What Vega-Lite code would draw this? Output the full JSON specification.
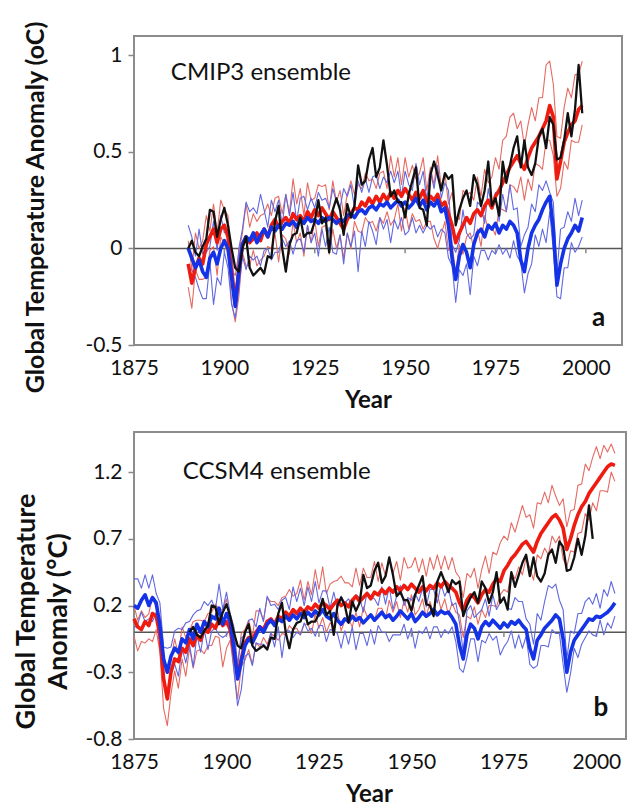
{
"$schema":"https://vega.github.io/schema/vega-lite/v6.json",
"padding":{"left":11,"top":19,"right":0,"bottom":0},
"config":{"font":"Lato","view":{"stroke":"#8c8c8c","strokeWidth":2},"axis":{"grid":false,"domain":false,"labelFont":"Lato","labelFontSize":21,"labelColor":"#111","titleFont":"Lato","titleFontWeight":"bold","titleColor":"#111","labelFlush":false,"labelOverlap":false},"concat":{"spacing":18}},
"datasets":{
"a":[
{"y":1890,"r":-0.08,"ru":0.04,"rl":-0.2,"b":0,"bu":0.12,"bl":-0.11,"o":0},
{"y":1891,"r":-0.18,"ru":-0.11,"rl":-0.31,"b":-0.05,"bu":0.06,"bl":-0.11,"o":0.04},
{"y":1892,"r":-0.1,"ru":0.08,"rl":-0.11,"b":-0.1,"bu":-0.04,"bl":-0.15,"o":-0.02},
{"y":1893,"r":-0.05,"ru":0,"rl":-0.16,"b":-0.06,"bu":0.1,"bl":-0.21,"o":-0.04},
{"y":1894,"r":-0.08,"ru":0.04,"rl":-0.16,"b":-0.12,"bu":-0.03,"bl":-0.26,"o":0.01},
{"y":1895,"r":0.02,"ru":0.17,"rl":-0.15,"b":-0.15,"bu":-0.02,"bl":-0.26,"o":0.05},
{"y":1896,"r":0.06,"ru":0.09,"rl":-0.01,"b":-0.05,"bu":0.01,"bl":-0.07,"o":0.2},
{"y":1897,"r":0.1,"ru":0.23,"rl":0.01,"b":-0.02,"bu":0.14,"bl":-0.29,"o":0.19},
{"y":1898,"r":0.03,"ru":0.08,"rl":-0.14,"b":-0.08,"bu":-0.01,"bl":-0.15,"o":0.06},
{"y":1899,"r":0.1,"ru":0.25,"rl":0.06,"b":0,"bu":0.17,"bl":-0.19,"o":0.15},
{"y":1900,"r":0.12,"ru":0.2,"rl":0.02,"b":0.04,"bu":0.08,"bl":-0.02,"o":0.21},
{"y":1901,"r":0.06,"ru":0.17,"rl":-0.02,"b":0,"bu":0.1,"bl":-0.1,"o":0.12},
{"y":1902,"r":-0.12,"ru":-0.11,"rl":-0.28,"b":-0.15,"bu":0,"bl":-0.29,"o":0},
{"y":1903,"r":-0.28,"ru":-0.14,"rl":-0.38,"b":-0.3,"bu":-0.26,"bl":-0.36,"o":-0.1},
{"y":1904,"r":-0.12,"ru":-0.02,"rl":-0.25,"b":-0.12,"bu":0,"bl":-0.21,"o":-0.12},
{"y":1905,"r":0.02,"ru":0.08,"rl":-0.02,"b":0.02,"bu":0.1,"bl":-0.04,"o":0},
{"y":1906,"r":0.06,"ru":0.23,"rl":-0.09,"b":0.06,"bu":0.24,"bl":-0.11,"o":0.06},
{"y":1907,"r":0.03,"ru":0.11,"rl":-0.09,"b":0.04,"bu":0.19,"bl":-0.04,"o":-0.1},
{"y":1908,"r":0.05,"ru":0.18,"rl":-0.01,"b":0.08,"bu":0.21,"bl":-0.06,"o":-0.14},
{"y":1909,"r":0.08,"ru":0.14,"rl":-0.09,"b":0.03,"bu":0.18,"bl":-0.04,"o":-0.12},
{"y":1910,"r":0.04,"ru":0.17,"rl":-0.06,"b":0.07,"bu":0.28,"bl":-0.09,"o":-0.1},
{"y":1911,"r":0.1,"ru":0.18,"rl":-0.04,"b":0.1,"bu":0.2,"bl":-0.01,"o":-0.13},
{"y":1912,"r":0.06,"ru":0.23,"rl":0.01,"b":0.06,"bu":0.11,"bl":0,"o":-0.04},
{"y":1913,"r":0.12,"ru":0.17,"rl":0,"b":0.11,"bu":0.25,"bl":-0.06,"o":-0.05},
{"y":1914,"r":0.15,"ru":0.26,"rl":0.08,"b":0.09,"bu":0.19,"bl":-0.02,"o":0.14},
{"y":1915,"r":0.11,"ru":0.27,"rl":-0.07,"b":0.12,"bu":0.25,"bl":-0.02,"o":0.22},
{"y":1916,"r":0.14,"ru":0.18,"rl":0.07,"b":0.1,"bu":0.12,"bl":0.05,"o":0},
{"y":1917,"r":0.16,"ru":0.28,"rl":0.05,"b":0.13,"bu":0.28,"bl":0.01,"o":-0.12},
{"y":1918,"r":0.13,"ru":0.18,"rl":-0.03,"b":0.12,"bu":0.17,"bl":0.04,"o":0.02},
{"y":1919,"r":0.18,"ru":0.36,"rl":0.14,"b":0.14,"bu":0.29,"bl":-0.03,"o":0.07},
{"y":1920,"r":0.15,"ru":0.23,"rl":0.03,"b":0.11,"bu":0.14,"bl":0.04,"o":0.08},
{"y":1921,"r":0.17,"ru":0.31,"rl":0.08,"b":0.15,"bu":0.26,"bl":0.05,"o":0.16},
{"y":1922,"r":0.14,"ru":0.17,"rl":-0.04,"b":0.13,"bu":0.27,"bl":-0.02,"o":0.06},
{"y":1923,"r":0.19,"ru":0.34,"rl":0.12,"b":0.16,"bu":0.2,"bl":0.12,"o":0.08},
{"y":1924,"r":0.16,"ru":0.25,"rl":0.03,"b":0.14,"bu":0.26,"bl":0.03,"o":0.08},
{"y":1925,"r":0.2,"ru":0.26,"rl":0.15,"b":0.15,"bu":0.21,"bl":0.08,"o":0.14},
{"y":1926,"r":0.17,"ru":0.33,"rl":0.01,"b":0.13,"bu":0.29,"bl":-0.04,"o":0.25},
{"y":1927,"r":0.21,"ru":0.32,"rl":0.11,"b":0.16,"bu":0.25,"bl":0.1,"o":0.13},
{"y":1928,"r":0.18,"ru":0.33,"rl":0.12,"b":0.14,"bu":0.26,"bl":0.01,"o":0.16},
{"y":1929,"r":0.15,"ru":0.2,"rl":-0.03,"b":0.16,"bu":0.21,"bl":0.11,"o":-0.02},
{"y":1930,"r":0.19,"ru":0.35,"rl":0.1,"b":0.15,"bu":0.31,"bl":-0.02,"o":0.2},
{"y":1931,"r":0.16,"ru":0.24,"rl":0,"b":0.13,"bu":0.24,"bl":-0.03,"o":0.26},
{"y":1932,"r":0.13,"ru":0.3,"rl":0.07,"b":0.15,"bu":0.21,"bl":0.07,"o":0.2},
{"y":1933,"r":0.1,"ru":0.17,"rl":-0.05,"b":0.14,"bu":0.31,"bl":-0.08,"o":0.07},
{"y":1934,"r":0.15,"ru":0.28,"rl":0.08,"b":0.17,"bu":0.27,"bl":0.08,"o":0.23},
{"y":1935,"r":0.18,"ru":0.35,"rl":0,"b":0.18,"bu":0.33,"bl":0.01,"o":0.16},
{"y":1936,"r":0.21,"ru":0.28,"rl":0.14,"b":0.16,"bu":0.21,"bl":0.09,"o":0.22},
{"y":1937,"r":0.2,"ru":0.33,"rl":0.09,"b":0.19,"bu":0.35,"bl":-0.12,"o":0.43},
{"y":1938,"r":0.24,"ru":0.31,"rl":0.08,"b":0.2,"bu":0.29,"bl":0.09,"o":0.33},
{"y":1939,"r":0.22,"ru":0.39,"rl":0.16,"b":0.18,"bu":0.36,"bl":0.01,"o":0.35},
{"y":1940,"r":0.26,"ru":0.35,"rl":0.13,"b":0.21,"bu":0.29,"bl":0.14,"o":0.46},
{"y":1941,"r":0.23,"ru":0.36,"rl":0.14,"b":0.22,"bu":0.37,"bl":0.09,"o":0.52},
{"y":1942,"r":0.27,"ru":0.31,"rl":0.09,"b":0.2,"bu":0.38,"bl":0.02,"o":0.37},
{"y":1943,"r":0.24,"ru":0.39,"rl":0.16,"b":0.23,"bu":0.31,"bl":0.16,"o":0.42},
{"y":1944,"r":0.28,"ru":0.4,"rl":0.13,"b":0.22,"bu":0.37,"bl":0.1,"o":0.56},
{"y":1945,"r":0.25,"ru":0.31,"rl":0.19,"b":0.24,"bu":0.34,"bl":0.15,"o":0.43},
{"y":1946,"r":0.29,"ru":0.48,"rl":0.12,"b":0.21,"bu":0.4,"bl":0.03,"o":0.27},
{"y":1947,"r":0.26,"ru":0.37,"rl":0.15,"b":0.23,"bu":0.34,"bl":0.15,"o":0.3},
{"y":1948,"r":0.3,"ru":0.47,"rl":0.23,"b":0.25,"bu":0.4,"bl":0.1,"o":0.24},
{"y":1949,"r":0.27,"ru":0.33,"rl":0.09,"b":0.22,"bu":0.27,"bl":0.16,"o":0.24},
{"y":1950,"r":0.31,"ru":0.47,"rl":0.21,"b":0.24,"bu":0.4,"bl":0.07,"o":0.16},
{"y":1951,"r":0.28,"ru":0.37,"rl":0.1,"b":0.21,"bu":0.33,"bl":0.09,"o":0.28},
{"y":1952,"r":0.25,"ru":0.43,"rl":0.18,"b":0.23,"bu":0.3,"bl":0.16,"o":0.35},
{"y":1953,"r":0.29,"ru":0.36,"rl":0.14,"b":0.26,"bu":0.44,"bl":0.08,"o":0.42},
{"y":1954,"r":0.26,"ru":0.39,"rl":0.15,"b":0.22,"bu":0.33,"bl":0.12,"o":0.21},
{"y":1955,"r":0.3,"ru":0.47,"rl":0.1,"b":0.25,"bu":0.4,"bl":0.08,"o":0.2},
{"y":1956,"r":0.24,"ru":0.3,"rl":0.14,"b":0.2,"bu":0.25,"bl":0.12,"o":0.12},
{"y":1957,"r":0.27,"ru":0.42,"rl":0.14,"b":0.24,"bu":0.4,"bl":0.1,"o":0.38},
{"y":1958,"r":0.25,"ru":0.33,"rl":0.05,"b":0.22,"bu":0.31,"bl":0.12,"o":0.45},
{"y":1959,"r":0.28,"ru":0.48,"rl":0,"b":0.25,"bu":0.43,"bl":0.06,"o":0.38},
{"y":1960,"r":0.22,"ru":0.32,"rl":0.07,"b":0.19,"bu":0.26,"bl":0.1,"o":0.3},
{"y":1961,"r":0.24,"ru":0.39,"rl":0.14,"b":0.21,"bu":0.34,"bl":0.08,"o":0.39},
{"y":1962,"r":0.18,"ru":0.23,"rl":-0.01,"b":0.12,"bu":0.3,"bl":-0.05,"o":0.36},
{"y":1963,"r":0.12,"ru":0.29,"rl":0.02,"b":-0.05,"bu":0.02,"bl":-0.09,"o":0.38},
{"y":1964,"r":0.03,"ru":0.16,"rl":-0.13,"b":-0.16,"bu":-0.02,"bl":-0.28,"o":0.12},
{"y":1965,"r":0.08,"ru":0.15,"rl":0.02,"b":-0.04,"bu":0.04,"bl":-0.11,"o":0.2},
{"y":1966,"r":0.12,"ru":0.3,"rl":-0.03,"b":0.02,"bu":0.2,"bl":-0.14,"o":0.26},
{"y":1967,"r":0.16,"ru":0.28,"rl":0.06,"b":-0.02,"bu":0.08,"bl":-0.08,"o":0.3},
{"y":1968,"r":0.13,"ru":0.29,"rl":0.08,"b":-0.1,"bu":0.05,"bl":-0.24,"o":0.22},
{"y":1969,"r":0.18,"ru":0.25,"rl":0,"b":0.02,"bu":0.07,"bl":-0.04,"o":0.38},
{"y":1970,"r":0.2,"ru":0.37,"rl":0.1,"b":0.08,"bu":0.24,"bl":-0.09,"o":0.33},
{"y":1971,"r":0.17,"ru":0.27,"rl":0.01,"b":0.1,"bu":0.22,"bl":-0.01,"o":0.22},
{"y":1972,"r":0.22,"ru":0.41,"rl":0.17,"b":0.06,"bu":0.13,"bl":-0.01,"o":0.3},
{"y":1973,"r":0.25,"ru":0.34,"rl":0.1,"b":0.12,"bu":0.31,"bl":-0.06,"o":0.45},
{"y":1974,"r":0.21,"ru":0.37,"rl":0.11,"b":0.1,"bu":0.21,"bl":-0.01,"o":0.22},
{"y":1975,"r":0.27,"ru":0.47,"rl":0.07,"b":0.13,"bu":0.29,"bl":-0.03,"o":0.26},
{"y":1976,"r":0.3,"ru":0.41,"rl":0.21,"b":0.08,"bu":0.14,"bl":0.02,"o":0.17},
{"y":1977,"r":0.34,"ru":0.56,"rl":0.2,"b":0.12,"bu":0.28,"bl":-0.03,"o":0.45},
{"y":1978,"r":0.38,"ru":0.58,"rl":0.19,"b":0.1,"bu":0.19,"bl":0,"o":0.34},
{"y":1979,"r":0.42,"ru":0.68,"rl":0.33,"b":0.14,"bu":0.33,"bl":-0.05,"o":0.43},
{"y":1980,"r":0.45,"ru":0.7,"rl":0.32,"b":0.12,"bu":0.2,"bl":0.04,"o":0.52},
{"y":1981,"r":0.48,"ru":0.62,"rl":0.29,"b":0.08,"bu":0.21,"bl":-0.04,"o":0.58},
{"y":1982,"r":0.44,"ru":0.66,"rl":0.37,"b":-0.06,"bu":0.01,"bl":-0.07,"o":0.42},
{"y":1983,"r":0.41,"ru":0.53,"rl":0.25,"b":-0.12,"bu":0.07,"bl":-0.23,"o":0.56},
{"y":1984,"r":0.47,"ru":0.64,"rl":0.36,"b":0,"bu":0.11,"bl":-0.13,"o":0.42},
{"y":1985,"r":0.52,"ru":0.73,"rl":0.3,"b":0.08,"bu":0.23,"bl":-0.08,"o":0.38},
{"y":1986,"r":0.55,"ru":0.66,"rl":0.44,"b":0.12,"bu":0.19,"bl":0.07,"o":0.44},
{"y":1987,"r":0.58,"ru":0.78,"rl":0.43,"b":0.15,"bu":0.33,"bl":0.01,"o":0.58},
{"y":1988,"r":0.62,"ru":0.78,"rl":0.41,"b":0.2,"bu":0.3,"bl":0.1,"o":0.62},
{"y":1989,"r":0.66,"ru":0.95,"rl":0.56,"b":0.24,"bu":0.35,"bl":0.03,"o":0.52},
{"y":1990,"r":0.74,"ru":0.97,"rl":0.56,"b":0.27,"bu":0.29,"bl":0.19,"o":0.68},
{"y":1991,"r":0.68,"ru":0.85,"rl":0.48,"b":0.1,"bu":0.24,"bl":-0.01,"o":0.64},
{"y":1992,"r":0.36,"ru":0.58,"rl":0.27,"b":-0.19,"bu":-0.13,"bl":-0.25,"o":0.46},
{"y":1993,"r":0.45,"ru":0.57,"rl":0.31,"b":-0.08,"bu":0.1,"bl":-0.26,"o":0.47},
{"y":1994,"r":0.55,"ru":0.73,"rl":0.45,"b":0,"bu":0.11,"bl":-0.1,"o":0.56},
{"y":1995,"r":0.6,"ru":0.83,"rl":0.41,"b":0.05,"bu":0.19,"bl":-0.1,"o":0.7},
{"y":1996,"r":0.64,"ru":0.78,"rl":0.56,"b":0.08,"bu":0.14,"bl":0.03,"o":0.58},
{"y":1997,"r":0.66,"ru":0.9,"rl":0.55,"b":0.12,"bu":0.26,"bl":-0.02,"o":0.72},
{"y":1998,"r":0.72,"ru":0.9,"rl":0.55,"b":0.09,"bu":0.17,"bl":0.01,"o":0.95},
{"y":1999,"r":0.74,"ru":0.97,"rl":0.64,"b":0.16,"bu":0.25,"bl":0.06,"o":0.7}
],
"b":[
{"y":1875,"r":0.1,"ru":0.2,"rl":-0.03,"b":0.2,"bu":0.4,"bl":0.03},
{"y":1876,"r":0.04,"ru":0.09,"rl":-0.14,"b":0.18,"bu":0.4,"bl":0.06},
{"y":1877,"r":0.02,"ru":0.16,"rl":-0.07,"b":0.24,"bu":0.33,"bl":0.15},
{"y":1878,"r":0.08,"ru":0.11,"rl":-0.08,"b":0.28,"bu":0.43,"bl":0.08},
{"y":1879,"r":0.05,"ru":0.14,"rl":-0.05,"b":0.2,"bu":0.33,"bl":0.1},
{"y":1880,"r":0.14,"ru":0.27,"rl":-0.07,"b":0.26,"bu":0.43,"bl":0.08},
{"y":1881,"r":0.12,"ru":0.18,"rl":0.02,"b":0.22,"bu":0.29,"bl":0.15},
{"y":1882,"r":-0.02,"ru":0.12,"rl":-0.15,"b":0.05,"bu":0.22,"bl":-0.1},
{"y":1883,"r":-0.35,"ru":-0.26,"rl":-0.57,"b":-0.2,"bu":-0.11,"bl":-0.31},
{"y":1884,"r":-0.5,"ru":-0.25,"rl":-0.7,"b":-0.3,"bu":-0.12,"bl":-0.49},
{"y":1885,"r":-0.3,"ru":-0.2,"rl":-0.46,"b":-0.18,"bu":-0.11,"bl":-0.26},
{"y":1886,"r":-0.2,"ru":-0.05,"rl":-0.29,"b":-0.12,"bu":0.01,"bl":-0.24},
{"y":1887,"r":-0.22,"ru":-0.17,"rl":-0.42,"b":-0.15,"bu":0.03,"bl":-0.33},
{"y":1888,"r":-0.12,"ru":0.04,"rl":-0.2,"b":-0.05,"bu":0.02,"bl":-0.12},
{"y":1889,"r":-0.15,"ru":-0.04,"rl":-0.33,"b":-0.08,"bu":0.07,"bl":-0.23},
{"y":1890,"r":-0.05,"ru":0.01,"rl":-0.12,"b":0.02,"bu":0.08,"bl":-0.09,"o":0},
{"y":1891,"r":-0.1,"ru":0.08,"rl":-0.27,"b":-0.05,"bu":0.13,"bl":-0.26,"o":0.04},
{"y":1892,"r":-0.02,"ru":0.09,"rl":-0.14,"b":0.06,"bu":0.16,"bl":-0.02,"o":-0.02},
{"y":1893,"r":-0.06,"ru":0.09,"rl":-0.13,"b":0,"bu":0.17,"bl":-0.15,"o":-0.04},
{"y":1894,"r":0.02,"ru":0.08,"rl":-0.16,"b":0.08,"bu":0.23,"bl":0.02,"o":0.01},
{"y":1895,"r":0,"ru":0.14,"rl":-0.1,"b":0.04,"bu":0.2,"bl":-0.13,"o":0.05},
{"y":1896,"r":0.06,"ru":0.15,"rl":-0.1,"b":0.12,"bu":0.24,"bl":0.01,"o":0.2},
{"y":1897,"r":0.03,"ru":0.21,"rl":-0.03,"b":0.1,"bu":0.17,"bl":0.03,"o":0.19},
{"y":1898,"r":0.1,"ru":0.17,"rl":-0.04,"b":0.18,"bu":0.36,"bl":-0.02,"o":0.06},
{"y":1899,"r":0.05,"ru":0.17,"rl":-0.26,"b":0.06,"bu":0.17,"bl":-0.04,"o":0.15},
{"y":1900,"r":0.08,"ru":0.25,"rl":-0.12,"b":0.14,"bu":0.3,"bl":-0.02,"o":0.21},
{"y":1901,"r":0.02,"ru":0.08,"rl":-0.06,"b":0.08,"bu":0.14,"bl":0.03,"o":0.12},
{"y":1902,"r":-0.15,"ru":-0.02,"rl":-0.28,"b":-0.12,"bu":0.04,"bl":-0.28,"o":0},
{"y":1903,"r":-0.32,"ru":-0.24,"rl":-0.5,"b":-0.35,"bu":-0.25,"bl":-0.55,"o":-0.1},
{"y":1904,"r":-0.2,"ru":-0.01,"rl":-0.26,"b":-0.22,"bu":-0.04,"bl":-0.43,"o":-0.12},
{"y":1905,"r":-0.08,"ru":0.02,"rl":-0.21,"b":-0.1,"bu":-0.03,"bl":-0.18,"o":0},
{"y":1906,"r":-0.04,"ru":0.09,"rl":-0.13,"b":-0.05,"bu":0.09,"bl":-0.16,"o":0.06},
{"y":1907,"r":-0.06,"ru":-0.03,"rl":-0.24,"b":-0.08,"bu":0.1,"bl":-0.25,"o":-0.1},
{"y":1908,"r":0,"ru":0.16,"rl":-0.08,"b":-0.02,"bu":0.04,"bl":-0.08,"o":-0.14},
{"y":1909,"r":0.04,"ru":0.16,"rl":-0.11,"b":0.04,"bu":0.18,"bl":-0.09,"o":-0.12},
{"y":1910,"r":0.02,"ru":0.09,"rl":-0.04,"b":0,"bu":0.08,"bl":-0.09,"o":-0.1},
{"y":1911,"r":0.08,"ru":0.26,"rl":-0.09,"b":0.06,"bu":0.27,"bl":-0.12,"o":-0.13},
{"y":1912,"r":0.1,"ru":0.23,"rl":-0.01,"b":0.09,"bu":0.2,"bl":0,"o":-0.04},
{"y":1913,"r":0.06,"ru":0.23,"rl":-0.03,"b":0.05,"bu":0.21,"bl":-0.11,"o":-0.05},
{"y":1914,"r":0.12,"ru":0.2,"rl":-0.06,"b":0.1,"bu":0.17,"bl":0.04,"o":0.14},
{"y":1915,"r":0.1,"ru":0.26,"rl":-0.01,"b":0.08,"bu":0.24,"bl":-0.19,"o":0.22},
{"y":1916,"r":0.15,"ru":0.27,"rl":-0.02,"b":0.12,"bu":0.26,"bl":0.01,"o":0},
{"y":1917,"r":0.12,"ru":0.32,"rl":0.05,"b":0.09,"bu":0.17,"bl":0.01,"o":-0.12},
{"y":1918,"r":0.17,"ru":0.27,"rl":0.02,"b":0.13,"bu":0.34,"bl":-0.04,"o":0.02},
{"y":1919,"r":0.14,"ru":0.29,"rl":0.03,"b":0.1,"bu":0.23,"bl":0,"o":0.07},
{"y":1920,"r":0.18,"ru":0.39,"rl":-0.02,"b":0.14,"bu":0.33,"bl":-0.02,"o":0.08},
{"y":1921,"r":0.15,"ru":0.24,"rl":0.06,"b":0.11,"bu":0.2,"bl":0.07,"o":0.16},
{"y":1922,"r":0.19,"ru":0.38,"rl":0.06,"b":0.15,"bu":0.34,"bl":0.01,"o":0.06},
{"y":1923,"r":0.17,"ru":0.28,"rl":-0.01,"b":0.12,"bu":0.23,"bl":0.03,"o":0.08},
{"y":1924,"r":0.21,"ru":0.47,"rl":0.14,"b":0.16,"bu":0.38,"bl":-0.03,"o":0.08},
{"y":1925,"r":0.18,"ru":0.32,"rl":0.03,"b":0.13,"bu":0.22,"bl":0.05,"o":0.14},
{"y":1926,"r":0.22,"ru":0.49,"rl":0.11,"b":0.17,"bu":0.31,"bl":0.05,"o":0.25},
{"y":1927,"r":0.2,"ru":0.29,"rl":0,"b":0.12,"bu":0.31,"bl":-0.07,"o":0.13},
{"y":1928,"r":0.17,"ru":0.36,"rl":0.07,"b":0.1,"bu":0.18,"bl":0.02,"o":0.16},
{"y":1929,"r":0.21,"ru":0.38,"rl":0.04,"b":0.14,"bu":0.3,"bl":0.01,"o":-0.02},
{"y":1930,"r":0.24,"ru":0.39,"rl":0.16,"b":0.09,"bu":0.18,"bl":-0.01,"o":0.2},
{"y":1931,"r":0.2,"ru":0.42,"rl":0.01,"b":0.06,"bu":0.27,"bl":-0.12,"o":0.26},
{"y":1932,"r":0.22,"ru":0.37,"rl":0.09,"b":0.1,"bu":0.22,"bl":0.01,"o":0.2},
{"y":1933,"r":0.19,"ru":0.37,"rl":0.1,"b":0.08,"bu":0.25,"bl":-0.09,"o":0.07},
{"y":1934,"r":0.24,"ru":0.34,"rl":0.04,"b":0.12,"bu":0.19,"bl":0.04,"o":0.23},
{"y":1935,"r":0.27,"ru":0.48,"rl":0.15,"b":0.09,"bu":0.28,"bl":-0.13,"o":0.16},
{"y":1936,"r":0.23,"ru":0.35,"rl":0.04,"b":0.11,"bu":0.26,"bl":-0.01,"o":0.22},
{"y":1937,"r":0.26,"ru":0.48,"rl":0.19,"b":0.07,"bu":0.15,"bl":-0.01,"o":0.43},
{"y":1938,"r":0.29,"ru":0.41,"rl":0.12,"b":0.1,"bu":0.3,"bl":-0.1,"o":0.33},
{"y":1939,"r":0.25,"ru":0.41,"rl":0.13,"b":0.13,"bu":0.27,"bl":0.02,"o":0.35},
{"y":1940,"r":0.3,"ru":0.53,"rl":0.09,"b":0.09,"bu":0.25,"bl":-0.09,"o":0.46},
{"y":1941,"r":0.28,"ru":0.38,"rl":0.18,"b":0.12,"bu":0.2,"bl":0.05,"o":0.52},
{"y":1942,"r":0.32,"ru":0.52,"rl":0.18,"b":0.15,"bu":0.34,"bl":0,"o":0.37},
{"y":1943,"r":0.29,"ru":0.42,"rl":0.1,"b":0.11,"bu":0.21,"bl":0,"o":0.42},
{"y":1944,"r":0.33,"ru":0.56,"rl":0.24,"b":0.13,"bu":0.34,"bl":-0.07,"o":0.56},
{"y":1945,"r":0.3,"ru":0.44,"rl":0.15,"b":0.09,"bu":0.17,"bl":-0.02,"o":0.43},
{"y":1946,"r":0.34,"ru":0.53,"rl":0.23,"b":0.12,"bu":0.27,"bl":-0.02,"o":0.27},
{"y":1947,"r":0.31,"ru":0.39,"rl":0.11,"b":0.16,"bu":0.35,"bl":-0.02,"o":0.3},
{"y":1948,"r":0.35,"ru":0.56,"rl":0.24,"b":0.13,"bu":0.2,"bl":0.06,"o":0.24},
{"y":1949,"r":0.32,"ru":0.48,"rl":0.15,"b":0.1,"bu":0.26,"bl":-0.05,"o":0.24},
{"y":1950,"r":0.36,"ru":0.49,"rl":0.28,"b":0.14,"bu":0.24,"bl":0.03,"o":0.16},
{"y":1951,"r":0.33,"ru":0.56,"rl":0.13,"b":0.08,"bu":0.29,"bl":-0.12,"o":0.28},
{"y":1952,"r":0.3,"ru":0.45,"rl":0.17,"b":0.11,"bu":0.23,"bl":0.01,"o":0.35},
{"y":1953,"r":0.34,"ru":0.55,"rl":0.25,"b":0.15,"bu":0.33,"bl":-0.01,"o":0.42},
{"y":1954,"r":0.31,"ru":0.42,"rl":0.11,"b":0.12,"bu":0.19,"bl":0.04,"o":0.21},
{"y":1955,"r":0.35,"ru":0.56,"rl":0.23,"b":0.14,"bu":0.32,"bl":-0.05,"o":0.2},
{"y":1956,"r":0.33,"ru":0.47,"rl":0.14,"b":0.17,"bu":0.32,"bl":0.04,"o":0.12},
{"y":1957,"r":0.37,"ru":0.58,"rl":0.29,"b":0.13,"bu":0.22,"bl":0.04,"o":0.38},
{"y":1958,"r":0.34,"ru":0.47,"rl":0.17,"b":0.16,"bu":0.36,"bl":-0.04,"o":0.45},
{"y":1959,"r":0.38,"ru":0.57,"rl":0.25,"b":0.14,"bu":0.27,"bl":0.02,"o":0.38},
{"y":1960,"r":0.35,"ru":0.47,"rl":0.13,"b":0.15,"bu":0.33,"bl":-0.01,"o":0.3},
{"y":1961,"r":0.33,"ru":0.56,"rl":0.22,"b":0.11,"bu":0.2,"bl":0.04,"o":0.39},
{"y":1962,"r":0.3,"ru":0.45,"rl":0.15,"b":0.06,"bu":0.22,"bl":-0.07,"o":0.36},
{"y":1963,"r":0.22,"ru":0.41,"rl":0.13,"b":-0.1,"bu":0.07,"bl":-0.27,"o":0.38},
{"y":1964,"r":0.16,"ru":0.26,"rl":-0.04,"b":-0.2,"bu":-0.15,"bl":-0.3,"o":0.12},
{"y":1965,"r":0.24,"ru":0.44,"rl":0.12,"b":-0.02,"bu":0.16,"bl":-0.19,"o":0.2},
{"y":1966,"r":0.28,"ru":0.41,"rl":0.1,"b":0.06,"bu":0.2,"bl":-0.05,"o":0.26},
{"y":1967,"r":0.26,"ru":0.48,"rl":0.19,"b":0.03,"bu":0.11,"bl":-0.05,"o":0.3},
{"y":1968,"r":0.22,"ru":0.33,"rl":0.06,"b":-0.05,"bu":0.14,"bl":-0.22,"o":0.22},
{"y":1969,"r":0.28,"ru":0.47,"rl":0.17,"b":0.04,"bu":0.17,"bl":-0.06,"o":0.38},
{"y":1970,"r":0.32,"ru":0.57,"rl":0.11,"b":0.08,"bu":0.25,"bl":-0.08,"o":0.33},
{"y":1971,"r":0.3,"ru":0.44,"rl":0.2,"b":0.05,"bu":0.12,"bl":-0.01,"o":0.22},
{"y":1972,"r":0.36,"ru":0.6,"rl":0.2,"b":0.09,"bu":0.28,"bl":-0.06,"o":0.3},
{"y":1973,"r":0.4,"ru":0.58,"rl":0.19,"b":0.06,"bu":0.17,"bl":-0.03,"o":0.45},
{"y":1974,"r":0.38,"ru":0.67,"rl":0.28,"b":0.03,"bu":0.22,"bl":-0.17,"o":0.22},
{"y":1975,"r":0.46,"ru":0.72,"rl":0.32,"b":0.07,"bu":0.26,"bl":-0.11,"o":0.26},
{"y":1976,"r":0.5,"ru":0.69,"rl":0.3,"b":0.04,"bu":0.18,"bl":-0.07,"o":0.17},
{"y":1977,"r":0.55,"ru":0.82,"rl":0.45,"b":0.08,"bu":0.17,"bl":0.01,"o":0.45},
{"y":1978,"r":0.58,"ru":0.75,"rl":0.4,"b":0.06,"bu":0.26,"bl":-0.12,"o":0.34},
{"y":1979,"r":0.62,"ru":0.85,"rl":0.49,"b":0.09,"bu":0.23,"bl":-0.02,"o":0.43},
{"y":1980,"r":0.66,"ru":0.95,"rl":0.43,"b":0.05,"bu":0.23,"bl":-0.12,"o":0.52},
{"y":1981,"r":0.68,"ru":0.86,"rl":0.56,"b":0.02,"bu":0.1,"bl":-0.03,"o":0.58},
{"y":1982,"r":0.64,"ru":0.88,"rl":0.48,"b":-0.12,"bu":0.06,"bl":-0.24,"o":0.42},
{"y":1983,"r":0.6,"ru":0.78,"rl":0.39,"b":-0.2,"bu":-0.09,"bl":-0.27,"o":0.56},
{"y":1984,"r":0.68,"ru":0.97,"rl":0.58,"b":-0.06,"bu":0.14,"bl":-0.25,"o":0.42},
{"y":1985,"r":0.74,"ru":0.96,"rl":0.55,"b":-0.02,"bu":0.09,"bl":-0.1,"o":0.38},
{"y":1986,"r":0.78,"ru":1.05,"rl":0.63,"b":0.03,"bu":0.23,"bl":-0.1,"o":0.44},
{"y":1987,"r":0.82,"ru":0.97,"rl":0.58,"b":0.06,"bu":0.35,"bl":-0.11,"o":0.58},
{"y":1988,"r":0.86,"ru":1.1,"rl":0.72,"b":0.09,"bu":0.33,"bl":0.02,"o":0.62},
{"y":1989,"r":0.88,"ru":1.02,"rl":0.67,"b":0.13,"bu":0.36,"bl":-0.01,"o":0.52},
{"y":1990,"r":0.84,"ru":0.95,"rl":0.72,"b":0.1,"bu":0.24,"bl":-0.01,"o":0.68},
{"y":1991,"r":0.78,"ru":1,"rl":0.55,"b":-0.05,"bu":0.17,"bl":-0.24,"o":0.64},
{"y":1992,"r":0.62,"ru":0.79,"rl":0.49,"b":-0.3,"bu":-0.2,"bl":-0.45,"o":0.46},
{"y":1993,"r":0.7,"ru":0.91,"rl":0.61,"b":-0.15,"bu":0.01,"bl":-0.31,"o":0.47},
{"y":1994,"r":0.8,"ru":0.92,"rl":0.6,"b":-0.06,"bu":-0.01,"bl":-0.12,"o":0.56},
{"y":1995,"r":0.88,"ru":1.1,"rl":0.74,"b":-0.02,"bu":0.14,"bl":-0.19,"o":0.7},
{"y":1996,"r":0.94,"ru":1.11,"rl":0.75,"b":0.02,"bu":0.14,"bl":-0.09,"o":0.58},
{"y":1997,"r":0.98,"ru":1.26,"rl":0.89,"b":0.06,"bu":0.23,"bl":-0.04,"o":0.72},
{"y":1998,"r":1.04,"ru":1.21,"rl":0.84,"b":0.1,"bu":0.26,"bl":0.01,"o":0.95},
{"y":1999,"r":1.08,"ru":1.31,"rl":0.97,"b":0.09,"bu":0.21,"bl":-0.02,"o":0.7},
{"y":2000,"r":1.12,"ru":1.39,"rl":0.91,"b":0.12,"bu":0.29,"bl":-0.03},
{"y":2001,"r":1.16,"ru":1.3,"rl":1.06,"b":0.11,"bu":0.18,"bl":0.09},
{"y":2002,"r":1.2,"ru":1.4,"rl":1.06,"b":0.13,"bu":0.32,"bl":-0.02},
{"y":2003,"r":1.24,"ru":1.35,"rl":1.05,"b":0.15,"bu":0.27,"bl":0.07},
{"y":2004,"r":1.26,"ru":1.41,"rl":1.2,"b":0.18,"bu":0.38,"bl":0.03},
{"y":2005,"r":1.25,"ru":1.34,"rl":1.13,"b":0.22,"bu":0.29,"bl":0.12}
]
},
"vconcat":[
{
"width":488,"height":309,
"layer":[
{"data":{"values":[{"z":0}]},"mark":{"type":"rule","color":"#555","strokeWidth":1.5},
 "encoding":{"y":{"field":"z","type":"quantitative","scale":{"domain":[-0.5,1.1],"nice":false,"zero":false}}}},
{"data":{"values":[{"t":1875},{"t":1900},{"t":1925},{"t":1950},{"t":1975},{"t":2000}]},"mark":{"type":"rule","color":"#888","strokeWidth":1.5},
 "encoding":{"x":{"field":"t","type":"quantitative","scale":{"domain":[1875,2010],"nice":false,"zero":false}},
  "y":{"datum":0,"type":"quantitative","scale":{"domain":[-0.5,1.1],"nice":false,"zero":false}},
  "y2":{"datum":-0.025}}},
{"data":{"name":"a"},"transform":[{"fold":["ru","rl","bu","bl"],"as":["k","v"]}],
 "mark":{"type":"line","strokeWidth":1.1,"strokeJoin":"round"},
 "encoding":{
  "x":{"field":"y","type":"quantitative","scale":{"domain":[1875,2010],"nice":false,"zero":false},
   "axis":{"values":[1875,1900,1925,1950,1975,2000],"labelExpr":"'' + datum.value","ticks":false,"labelPadding":12,"title":"Year","titleFontSize":24,"titlePadding":10,"titleX":234}},
  "y":{"field":"v","type":"quantitative","scale":{"domain":[-0.5,1.1],"nice":false,"zero":false},
   "axis":{"values":[-0.5,0,0.5,1],"labelExpr":"'' + datum.value","tickSize":6,"tickColor":"#888","tickWidth":1.5,"labelPadding":6,"title":"Global Temperature Anomaly (oC)","titleFontSize":25,"titleX":-99,"titleY":171,"titleAngle":-90,"titleAlign":"center","titleBaseline":"middle"}},
  "color":{"field":"k","type":"nominal","scale":{"domain":["ru","rl","bu","bl"],"range":["#e56a62","#e56a62","#6168e0","#6168e0"]},"legend":null}}},
{"data":{"name":"a"},"mark":{"type":"line","strokeWidth":3.6,"color":"#ee1c10","strokeJoin":"round"},
 "encoding":{"x":{"field":"y","type":"quantitative","scale":{"domain":[1875,2010],"nice":false,"zero":false}},
  "y":{"field":"r","type":"quantitative","scale":{"domain":[-0.5,1.1],"nice":false,"zero":false}}}},
{"data":{"name":"a"},"mark":{"type":"line","strokeWidth":3.6,"color":"#1432e6","strokeJoin":"round"},
 "encoding":{"x":{"field":"y","type":"quantitative","scale":{"domain":[1875,2010],"nice":false,"zero":false}},
  "y":{"field":"b","type":"quantitative","scale":{"domain":[-0.5,1.1],"nice":false,"zero":false}}}},
{"data":{"name":"a"},"mark":{"type":"line","strokeWidth":2.3,"color":"#111","strokeJoin":"round"},
 "encoding":{"x":{"field":"y","type":"quantitative","scale":{"domain":[1875,2010],"nice":false,"zero":false}},
  "y":{"field":"o","type":"quantitative","scale":{"domain":[-0.5,1.1],"nice":false,"zero":false}}}},
{"data":{"values":[{"t":"CMIP3 ensemble"}]},"mark":{"type":"text","align":"left","baseline":"middle","fontSize":24,"color":"#111"},
 "encoding":{"text":{"field":"t"},"x":{"datum":1885.2,"type":"quantitative"},"y":{"datum":0.91,"type":"quantitative"}}},
{"data":{"values":[{"t":"a"}]},"mark":{"type":"text","align":"center","baseline":"middle","fontSize":26,"fontWeight":"bold","color":"#111"},
 "encoding":{"text":{"field":"t"},"x":{"datum":2003.5,"type":"quantitative"},"y":{"datum":-0.36,"type":"quantitative"}}}
]
},
{
"width":492,"height":307,
"layer":[
{"data":{"values":[{"z":0}]},"mark":{"type":"rule","color":"#555","strokeWidth":1.5},
 "encoding":{"y":{"field":"z","type":"quantitative","scale":{"domain":[-0.8,1.5],"nice":false,"zero":false}}}},
{"data":{"values":[{"t":1875},{"t":1900},{"t":1925},{"t":1950},{"t":1975},{"t":2000}]},"mark":{"type":"rule","color":"#888","strokeWidth":1.5},
 "encoding":{"x":{"field":"t","type":"quantitative","scale":{"domain":[1875,2008],"nice":false,"zero":false}},
  "y":{"datum":0,"type":"quantitative","scale":{"domain":[-0.8,1.5],"nice":false,"zero":false}},
  "y2":{"datum":-0.035}}},
{"data":{"name":"b"},"transform":[{"fold":["ru","rl","bu","bl"],"as":["k","v"]}],
 "mark":{"type":"line","strokeWidth":1.1,"strokeJoin":"round"},
 "encoding":{
  "x":{"field":"y","type":"quantitative","scale":{"domain":[1875,2008],"nice":false,"zero":false},
   "axis":{"values":[1875,1900,1925,1950,1975,2000],"labelExpr":"'' + datum.value","ticks":false,"labelPadding":12,"title":"Year","titleFontSize":24,"titlePadding":10,"titleX":235}},
  "y":{"field":"v","type":"quantitative","scale":{"domain":[-0.8,1.5],"nice":false,"zero":false},
   "axis":{"values":[-0.8,-0.3,0.2,0.7,1.2],"labelExpr":"'' + datum.value","tickSize":6,"tickColor":"#888","tickWidth":1.5,"labelPadding":6,"title":["Global Temperature","Anomaly (°C)"],"titleFontSize":27,"titleLineHeight":32,"titleX":-108,"titleY":179,"titleAngle":-90,"titleAlign":"center","titleBaseline":"middle"}},
  "color":{"field":"k","type":"nominal","scale":{"domain":["ru","rl","bu","bl"],"range":["#e56a62","#e56a62","#6168e0","#6168e0"]},"legend":null}}},
{"data":{"name":"b"},"mark":{"type":"line","strokeWidth":3.6,"color":"#ee1c10","strokeJoin":"round"},
 "encoding":{"x":{"field":"y","type":"quantitative","scale":{"domain":[1875,2008],"nice":false,"zero":false}},
  "y":{"field":"r","type":"quantitative","scale":{"domain":[-0.8,1.5],"nice":false,"zero":false}}}},
{"data":{"name":"b"},"mark":{"type":"line","strokeWidth":3.6,"color":"#1432e6","strokeJoin":"round"},
 "encoding":{"x":{"field":"y","type":"quantitative","scale":{"domain":[1875,2008],"nice":false,"zero":false}},
  "y":{"field":"b","type":"quantitative","scale":{"domain":[-0.8,1.5],"nice":false,"zero":false}}}},
{"data":{"name":"b"},"mark":{"type":"line","strokeWidth":2.3,"color":"#111","strokeJoin":"round"},
 "encoding":{"x":{"field":"y","type":"quantitative","scale":{"domain":[1875,2008],"nice":false,"zero":false}},
  "y":{"field":"o","type":"quantitative","scale":{"domain":[-0.8,1.5],"nice":false,"zero":false}}}},
{"data":{"values":[{"t":"CCSM4 ensemble"}]},"mark":{"type":"text","align":"left","baseline":"middle","fontSize":24,"color":"#111"},
 "encoding":{"text":{"field":"t"},"x":{"datum":1888.2,"type":"quantitative"},"y":{"datum":1.2,"type":"quantitative"}}},
{"data":{"values":[{"t":"b"}]},"mark":{"type":"text","align":"center","baseline":"middle","fontSize":26,"fontWeight":"bold","color":"#111"},
 "encoding":{"text":{"field":"t"},"x":{"datum":2001.2,"type":"quantitative"},"y":{"datum":-0.567,"type":"quantitative"}}}
]
}
]
}
